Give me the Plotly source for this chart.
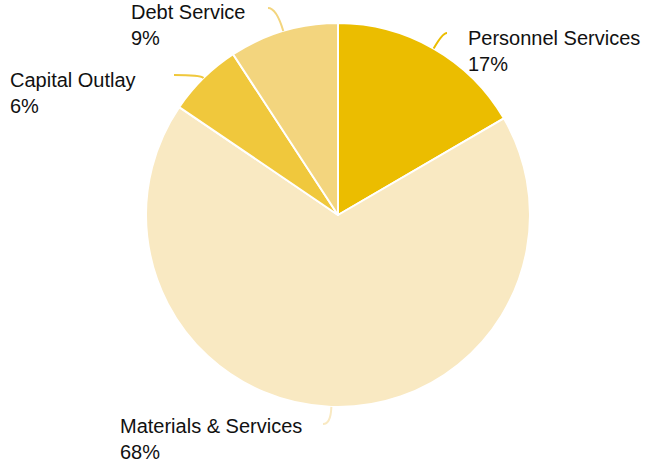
import math
import plotly.graph_objects as go

# ---- data ----
categories = ["Personnel Services", "Materials & Services", "Capital Outlay", "Debt Service"]
shares = [16.6, 67.9, 6.3, 9.2]
colors = ["#EBBD00", "#F9E9C2", "#F0C83C", "#F3D57E"]

# ---- layout config (pixels in the page) ----
W, H = 646, 466
CX, CY, R = 338, 215, 192
FONT = "Liberation Sans, Arial, sans-serif"
FS = 20
# label anchor: (left x, first-line centre y); leader end point
label_pos = [(468, 38), (120, 426), (10, 80), (131, 12)]
leader_end = [(447, 33), (323, 424), (174, 75), (268, 8)]


def px(x):
    return x / W


def py(y):
    return 1 - y / H


fig = go.Figure(go.Pie(
    labels=categories, values=shares, sort=False, direction="clockwise",
    marker=dict(colors=colors, line=dict(color="white", width=2)),
    textinfo="none", hoverinfo="label+percent",
    domain=dict(x=[px(CX - R), px(CX + R)], y=[py(CY + R), py(CY - R)]),
    showlegend=False,
))

total = sum(shares)
cum = 0.0
shapes, annotations = [], []
for i, (cat, v) in enumerate(zip(categories, shares)):
    mid = (cum + v / 2) / total * 2 * math.pi
    cum += v
    ux, uy = math.sin(mid), -math.cos(mid)
    x0, y0 = CX + R * ux, CY + R * uy
    ex, ey = leader_end[i]
    t = (ey - y0) / uy if abs(uy) > 1e-6 else 10
    cxp, cyp = x0 + ux * t, y0 + uy * t
    shapes.append(dict(
        type="path", xref="paper", yref="paper",
        path=f"M {px(x0)} {py(y0)} Q {px(cxp)} {py(cyp)} {px(ex)} {py(ey)}",
        line=dict(color=colors[i], width=2),
    ))
    lx, ly = label_pos[i]
    pct = round(v / total * 100)
    annotations.append(dict(
        text=f"{cat}<br>{pct}%", x=px(lx), y=py(ly + 13), xref="paper", yref="paper",
        xanchor="left", yanchor="middle", align="left", showarrow=False, xshift=-2,
        font=dict(family=FONT, size=FS, color="#111111"),
    ))

fig.update_layout(
    width=W, height=H, margin=dict(l=0, r=0, t=0, b=0),
    paper_bgcolor="white", plot_bgcolor="white",
    shapes=shapes, annotations=annotations,
)
fig.write_html("out.html", config={"displayModeBar": False},
               post_script="document.body.style.margin='0';document.body.style.overflow='hidden';")
